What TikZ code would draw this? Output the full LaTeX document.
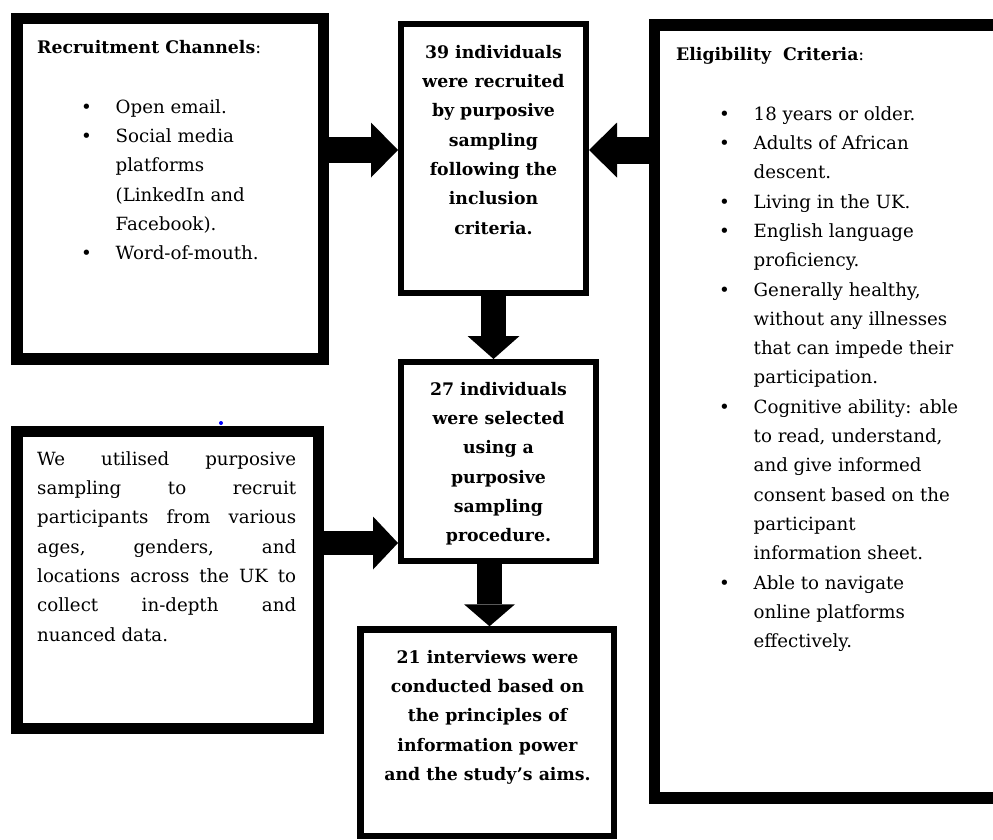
\documentclass[tikz,border=0pt]{standalone}
\usepackage{fontspec}
\setmainfont{DejaVu Serif}
\usetikzlibrary{arrows.meta,calc}
\newcommand{\myblt}{\makebox[34.5pt][l]{\textbullet}}
\newcommand{\myind}{\hspace*{34.5pt}}
\newcommand{\jl}[1]{\makebox[259pt][s]{#1}}
\tikzset{
  box/.style={draw=black, line width=#1, inner sep=0pt, fill=white},
  txt/.style={inner sep=0pt, font=\fontsize{18.2}{29.3}\selectfont},
  txtb/.style={inner sep=0pt, font=\fontsize{17.3}{29.3}\selectfont\bfseries},
  blockarrow/.style n args={3}{line width=#1, draw=black,
     -{Triangle[length=#2, width=#3, line width=0pt]}}
}
\begin{document}
\begin{tikzpicture}[x=1pt, y=-1pt]
\path[use as bounding box] (0,0) rectangle (993,839);
\clip (0,0) rectangle (993,839);

% boxes
\node[box=11.5pt, minimum width=306.5pt, minimum height=340.5pt] (boxA) at (170.25,188.75) {};
\node[box=6pt, minimum width=185pt, minimum height=269pt] (boxB) at (493.5,158.5) {};
\node[box=11.5pt, minimum width=355.5pt, minimum height=773pt] (boxC) at (832.25,411.5) {};
\node[box=6pt, minimum width=194.5pt, minimum height=198.5pt] (boxD) at (498.25,461.25) {};
\node[box=11.5pt, minimum width=301.5pt, minimum height=297pt] (boxE) at (167.75,580) {};
\node[box=6.5pt, minimum width=253.5pt, minimum height=206.5pt] (boxF) at (487.25,732.75) {};

% stray blue dot
\node[circle, fill=blue, inner sep=0pt, minimum size=4pt] (dot) at (221,423) {};

% arrows
\coordinate (abS) at ([yshift=38.75pt]boxA.east);
\draw[blockarrow={26pt}{27pt}{55pt}] (abS) -- (abS -| boxB.west);
\coordinate (cbS) at ([yshift=261.5pt]boxC.west);
\draw[blockarrow={27pt}{28pt}{55pt}] (cbS) -- (cbS -| boxB.east);
\draw[blockarrow={25pt}{23pt}{52pt}] (boxB.south) -- (boxB.south |- boxD.north);
\coordinate (edS) at ([yshift=37pt]boxE.east);
\draw[blockarrow={24pt}{25pt}{53pt}] (edS) -- (edS -| boxD.west);
\coordinate (dfS) at ([xshift=-8.75pt]boxD.south);
\draw[blockarrow={25pt}{22pt}{51pt}] (dfS) -- (dfS |- boxF.north);

% texts
\node[txtb, anchor=base west] (titleA) at (37,53) {Recruitment Channels\textmd{:}};
\node[txt, anchor=north west, align=left] (listA) at (81,92.5)
  {\myblt\strut Open email.\\
   \myblt Social media\\
   \myind platforms\\
   \myind (LinkedIn and\\
   \myind Facebook).\\
   \myblt Word-of-mouth.};

\node[txtb, anchor=north, align=center] (textB) at (493.5,37.5)
  {\strut 39 individuals\\ were recruited\\ by purposive\\ sampling\\ following the\\ inclusion\\ criteria.};

\node[txtb, anchor=base west] (titleC) at (676,60) {Eligibility\ \ Criteria\textmd{:}};
\node[txt, anchor=north west, align=left] (listC) at (719,99.5)
  {\myblt\strut 18 years or older.\\
   \myblt Adults of African\\
   \myind descent.\\
   \myblt Living in the UK.\\
   \myblt English language\\
   \myind proficiency.\\
   \myblt Generally healthy,\\
   \myind without any illnesses\\
   \myind that can impede their\\
   \myind participation.\\
   \myblt Cognitive ability: able\\
   \myind to read, understand,\\
   \myind and give informed\\
   \myind consent based on the\\
   \myind participant\\
   \myind information sheet.\\
   \myblt Able to navigate\\
   \myind online platforms\\
   \myind effectively.};

\node[txtb, anchor=north, align=center] (textD) at (498.5,374.5)
  {\strut 27 individuals\\ were selected\\ using a\\ purposive\\ sampling\\ procedure.};

\node[txt, anchor=north west, align=left] (textE) at (37,444.5)
  {\strut\jl{We utilised purposive}\\
   \jl{sampling to recruit}\\
   \jl{participants from various}\\
   \jl{ages, genders, and}\\
   \jl{locations across the UK to}\\
   \jl{collect in-depth and}\\
   nuanced data.};

\node[txtb, anchor=north, align=center] (textF) at (487.5,642.5)
  {\strut 21 interviews were\\ conducted based on\\ the principles of\\ information power\\ and the study’s aims.};
\end{tikzpicture}
\end{document}
